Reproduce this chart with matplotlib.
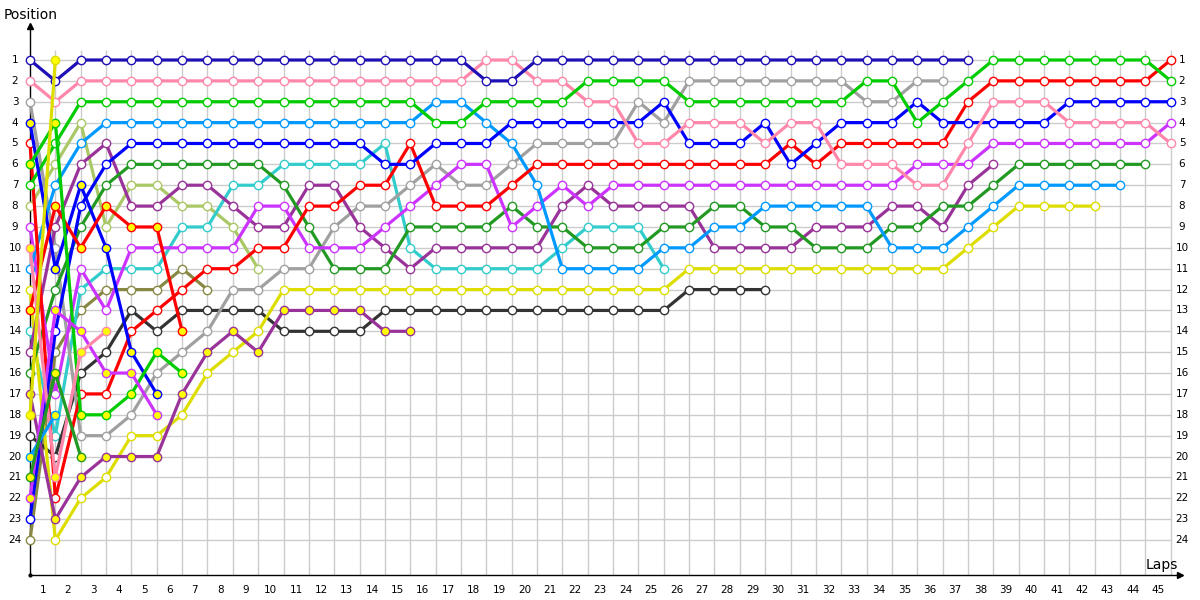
import matplotlib
matplotlib.use('Agg')
import matplotlib.pyplot as plt

# positions per lap (lap 0 = grid), one list per driver
navy = [1, 2, 1, 1, 1, 1, 1, 1, 1, 1, 1, 1, 1, 1, 1, 1, 1, 1, 2, 2,
        1, 1, 1, 1, 1, 1, 1, 1, 1, 1, 1, 1, 1, 1, 1, 1, 1, 1]
pink = [2, 3, 2, 2, 2, 2, 2, 2, 2, 2, 2, 2, 2, 2, 2, 2, 2, 2, 1, 1,
        2, 2, 3, 3, 5, 5, 4, 4, 4, 5, 4, 4, 6, 6, 6, 7, 7, 5, 3, 3,
        3, 4, 4, 4, 4, 5]
green = [7, 5, 3, 3, 3, 3, 3, 3, 3, 3, 3, 3, 3, 3, 3, 3, 4, 4, 3, 3,
         3, 3, 2, 2, 2, 2, 3, 3, 3, 3, 3, 3, 3, 2, 2, 4, 3, 2, 1, 1,
         1, 1, 1, 1, 1, 2]
light_blue = [11, 7, 5, 4, 4, 4, 4, 4, 4, 4, 4, 4, 4, 4, 4, 4, 3, 3, 4, 5,
              7, 11, 11, 11, 11, 10, 10, 9, 9, 8, 8, 8, 8, 8, 10, 10, 10, 9, 8, 7,
              7, 7, 7, 7]
blue = [23, 14, 8, 6, 5, 5, 5, 5, 5, 5, 5, 5, 5, 5, 6, 6, 5, 5, 5, 4,
        4, 4, 4, 4, 4, 3, 5, 5, 5, 4, 6, 5, 4, 4, 4, 3, 4, 4, 4, 4,
        4, 3, 3, 3, 3, 3]
red = [5, 22, 17, 17, 14, 13, 12, 11, 11, 10, 10, 8, 8, 7, 7, 5, 8, 8, 8, 7,
       6, 6, 6, 6, 6, 6, 6, 6, 6, 6, 5, 6, 5, 5, 5, 5, 5, 3, 2, 2,
       2, 2, 2, 2, 2, 1]
gray = [3, 10, 19, 19, 18, 16, 15, 14, 12, 12, 11, 11, 9, 8, 8, 7, 6, 7, 7, 6,
        5, 5, 5, 5, 3, 4, 2, 2, 2, 2, 2, 2, 2, 3, 3, 2, 2]
purple = [15, 9, 6, 5, 8, 8, 7, 7, 8, 9, 9, 7, 7, 9, 10, 11, 10, 10, 10, 10,
          10, 8, 7, 8, 8, 8, 8, 10, 10, 10, 10, 9, 9, 9, 8, 8, 9, 7, 6]
dark_green = [16, 12, 9, 7, 6, 6, 6, 6, 6, 6, 7, 9, 11, 11, 11, 9, 9, 9, 9, 8,
              9, 9, 10, 10, 10, 9, 9, 8, 8, 9, 9, 10, 10, 10, 9, 9, 8, 8, 7, 6,
              6, 6, 6, 6, 6]
magenta = [9, 17, 11, 13, 10, 10, 10, 10, 10, 8, 8, 10, 10, 10, 9, 8, 7, 6, 6, 9,
           8, 7, 8, 7, 7, 7, 7, 7, 7, 7, 7, 7, 7, 7, 7, 6, 6, 6, 5, 5,
           5, 5, 5, 5, 5, 4]
teal = [14, 19, 12, 11, 11, 11, 9, 9, 7, 7, 6, 6, 6, 6, 5, 10, 11, 11, 11, 11,
        11, 10, 9, 9, 9, 11]
light_green = [8, 6, 4, 9, 7, 7, 8, 8, 9, 11]
black = [19, 20, 16, 15, 13, 14, 13, 13, 13, 13, 14, 14, 14, 14, 13, 13, 13, 13, 13, 13,
         13, 13, 13, 13, 13, 13, 12, 12, 12, 12]
olive = [24, 15, 13, 12, 12, 12, 11, 12]
yellow = [12, 24, 22, 21, 19, 19, 18, 16, 15, 14, 12, 12, 12, 12, 12, 12, 12, 12, 12, 12,
          12, 12, 12, 12, 12, 12, 11, 11, 11, 11, 11, 11, 11, 11, 11, 11, 11, 10, 9, 8,
          8, 8, 8]

# second cars (yellow markers)
blue_2 = [4, 11, 7, 10, 15, 17]
red_2 = [13, 8, 10, 8, 9, 9, 14]
green_2 = [6, 4, 18, 18, 17, 15, 16]
purple_2 = [17, 23, 21, 20, 20, 20, 17, 15, 14, 15, 13, 13, 13, 13, 14, 14]
magenta_2 = [22, 13, 14, 16, 16, 18]
pink_2 = [10, 21, 15, 14]
light_blue_2 = [20, 18]
dark_green_2 = [21, 16, 20]
yellow_2 = [18, 1]

drivers = [
    (olive, '#888844', 'white'), (light_green, '#aac866', 'white'),
    (teal, '#33cccc', 'white'), (black, '#333333', 'white'),
    (yellow, '#dddd00', 'white'), (gray, '#a0a0a0', 'white'),
    (purple, '#993399', 'white'), (dark_green, '#229922', 'white'),
    (magenta, '#cc33ff', 'white'), (light_blue, '#0099ff', 'white'),
    (red, '#ff0000', 'white'), (blue, '#0000ff', 'white'),
    (pink, '#ff88aa', 'white'), (green, '#00cc00', 'white'),
    (navy, '#1e10b4', 'white'),
    (blue_2, '#0000ff', '#ffff00'), (red_2, '#ff0000', '#ffff00'),
    (green_2, '#00cc00', '#ffff00'), (purple_2, '#993399', '#ffff00'),
    (magenta_2, '#cc33ff', '#ffff00'), (pink_2, '#ff88aa', '#ffff00'),
    (light_blue_2, '#0099ff', '#ffff00'), (dark_green_2, '#229922', '#ffff00'),
    (yellow_2, '#dddd00', '#ffff00'),
]

n_laps = 45
n_pos = 24

# pixel layout of the original: lap 0 at x=30, 25.35 px per lap; pos 1 at y=60, 20.87 px per pos
def lx(px):
    return (px - 30) / 25.35

def py(px):
    return 1 + (px - 60) / 20.87

fig = plt.figure(figsize=(12, 6), dpi=100)
ax = fig.add_axes([0, 0, 1, 1])
ax.set_xlim(lx(0), lx(1200))
ax.set_ylim(py(600), py(0))
ax.axis('off')

# grid
ax.vlines(range(1, n_laps + 1), py(50), py(575), color='#cccccc', lw=1, zorder=0)
ax.hlines(range(1, n_pos + 1), 0, n_laps, color='#cccccc', lw=1, zorder=0)

# axes with arrows
ax.plot([0, 0], [py(575), py(28)], color='black', lw=1, zorder=1)
ax.plot([0, lx(1178)], [py(575), py(575)], color='black', lw=1, zorder=1)
ax.plot(0, py(26), marker='^', color='black', ms=4, zorder=1)
ax.plot(lx(1180), py(575), marker='>', color='black', ms=4, zorder=1)
ax.plot(0, py(575), marker='o', color='black', ms=2, zorder=1)

ax.text(lx(4), py(15), 'Position', fontsize=10, ha='left', va='center')
ax.text(lx(1178), py(565), 'Laps', fontsize=10, ha='right', va='center')

for p in range(1, n_pos + 1):
    ax.text(lx(15), p, str(p), fontsize=7.5, ha='center', va='center')
    ax.text(lx(1182), p, str(p), fontsize=7.5, ha='center', va='center')
for k in range(1, n_laps + 1):
    ax.text(k - 0.5, py(590), str(k), fontsize=7.5, ha='center', va='center')

for z, (pos, col, fill) in enumerate(drivers):
    ax.plot(range(len(pos)), pos, color=col, lw=2.3, marker='o', ms=6,
            mfc=fill, mec=col, mew=1, zorder=2 + z)

plt.savefig('out.png', dpi=100)
